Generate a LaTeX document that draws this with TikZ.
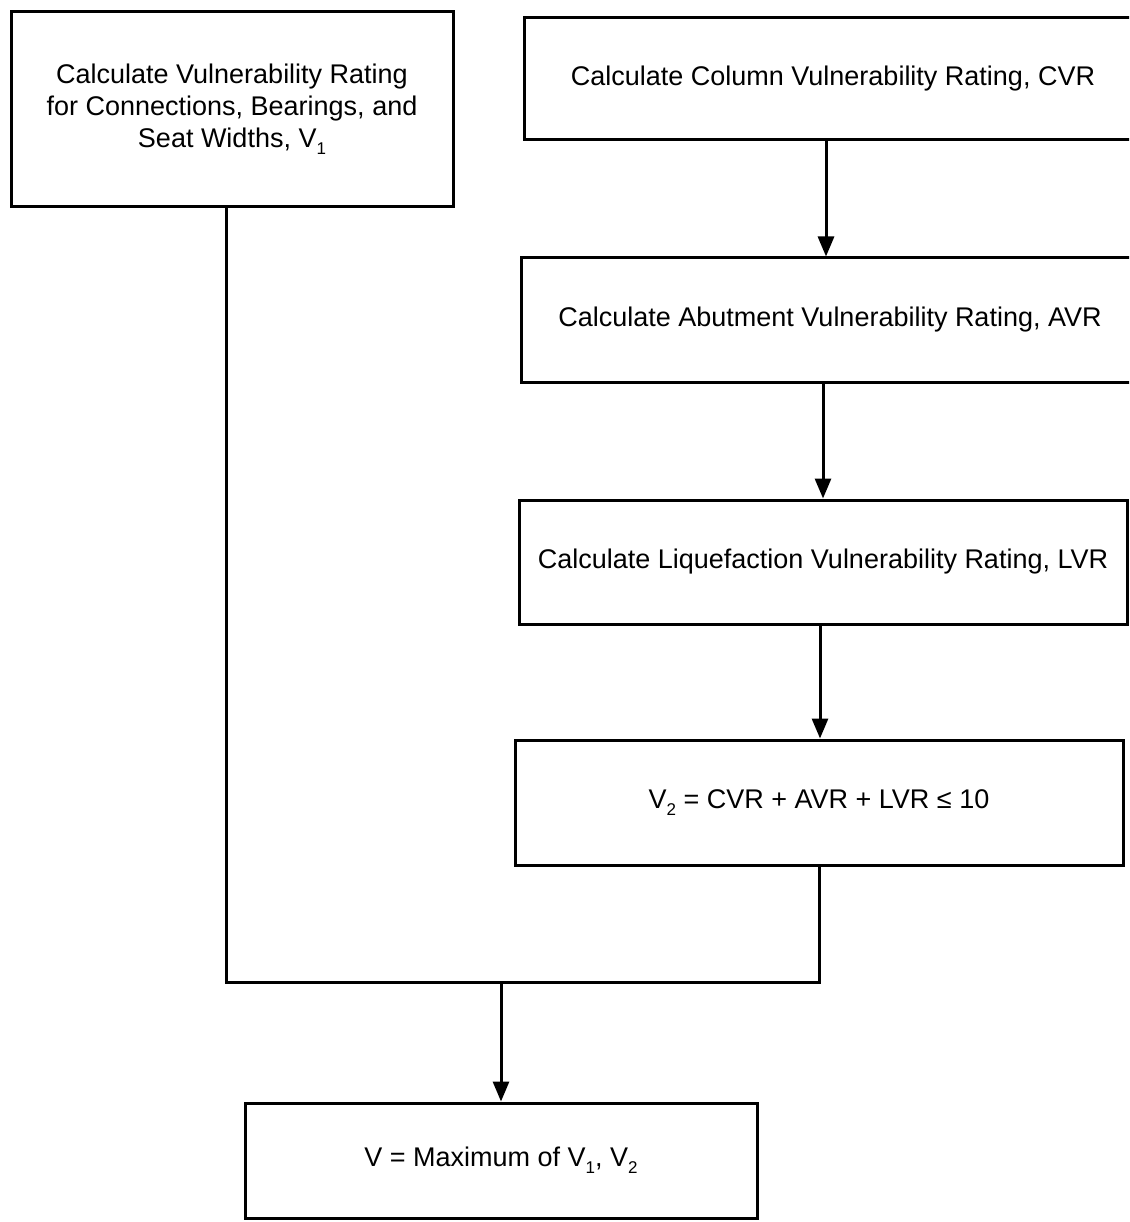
\documentclass[tikz,border=0pt]{standalone}
\usepackage{fontspec}
\setmainfont{Liberation Sans}
\usetikzlibrary{arrows.meta}
% lowered subscript digit, as set in the flow chart labels
\newcommand{\lowsub}[1]{\raisebox{-7pt}{\fontsize{17}{17}\selectfont #1}}
\begin{document}
\begin{tikzpicture}[x=1pt,y=-1pt,
  every node/.style={font=\fontsize{27}{32}\selectfont},
  box/.style={draw, line width=3pt, align=center, inner sep=0pt},
  link/.style={line width=3pt},
  arr/.style={link, -{Triangle[length=20pt,width=16pt]}}]
\useasboundingbox (0,0) rectangle (1129,1222);
\clip (0,0) rectangle (1129,1222);
\fill[white] (0,0) rectangle (1129,1222);

% left branch
\node[box, minimum width=442pt, minimum height=195pt] (v1) at (232,109.5)
  {Calculate Vulnerability Rating\\for Connections, Bearings, and\\Seat Widths, V\lowsub{1}};

% right branch
\node[box, minimum width=618pt, minimum height=122pt] (cvr) at (833,79)
  {Calculate Column Vulnerability Rating, CVR};
\node[box, minimum width=618pt, minimum height=124pt] (avr) at (830,320)
  {Calculate Abutment Vulnerability Rating, AVR};
\node[box, minimum width=608pt, minimum height=124pt] (lvr) at (823,562)
  {Calculate Liquefaction Vulnerability Rating, LVR};
\node[box, minimum width=608pt, minimum height=125pt] (v2) at (819,802.5)
  {V\lowsub{2} = CVR + AVR + LVR ≤ 10};

% result
\node[box, minimum width=512pt, minimum height=115pt] (fin) at (501,1160.5)
  {V = Maximum of V\lowsub{1}, V\lowsub{2}};

\coordinate (m) at (501,982);

\draw[arr] ([xshift=-7pt]cvr.south) -- ([xshift=-7pt]cvr.south |- avr.north);
\draw[arr] ([xshift=-7pt]avr.south) -- ([xshift=-7pt]avr.south |- lvr.north);
\draw[arr] ([xshift=-3pt]lvr.south) -- ([xshift=-3pt]lvr.south |- v2.north);
\draw[link] ([xshift=-6pt]v1.south) |- (m) -| (v2.south);
\draw[arr] (m) -- (fin.north);
\end{tikzpicture}
\end{document}
